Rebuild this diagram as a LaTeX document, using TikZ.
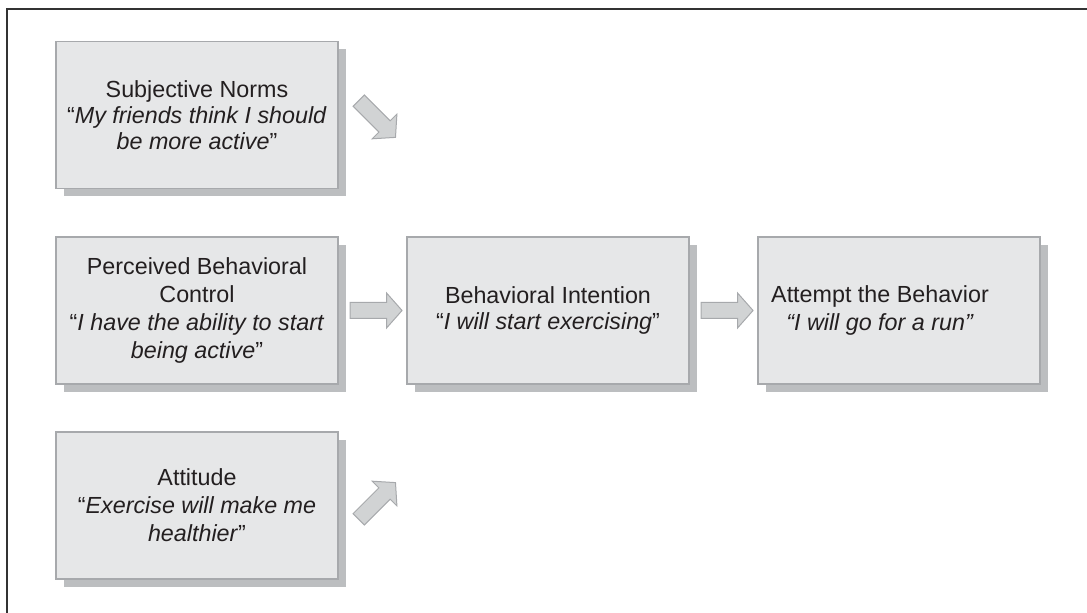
\documentclass[tikz,border=0pt]{standalone}
\usepackage{fontspec}
\setmainfont{Liberation Sans}
\usetikzlibrary{shapes.arrows,shadows,calc}
\definecolor{boxfill}{HTML}{E6E7E8}
\definecolor{boxline}{HTML}{A7A9AC}
\definecolor{boxshadow}{HTML}{BCBEC0}
\definecolor{arrowfill}{HTML}{D1D3D4}
\definecolor{ink}{HTML}{231F20}
\definecolor{framecol}{HTML}{333333}

\begin{document}
\begin{tikzpicture}[x=0.5pt,y=-0.5pt,
	box/.style={draw=boxline,fill=boxfill,line width=0.6pt,minimum width=141pt,minimum height=73.5pt,
		inner sep=0pt,align=center,text=ink,font=\fontsize{11.65pt}{14pt}\selectfont,
		drop shadow={shadow xshift=4pt,shadow yshift=-4pt,fill=boxshadow,opacity=1}},
	blockarrow/.style={single arrow,draw=boxline,fill=arrowfill,line width=0.5pt,minimum height=26pt,
		inner xsep=0pt,inner ysep=3.75pt,single arrow head extend=4.75pt,single arrow tip angle=97}]
			\useasboundingbox (0,0) rectangle (1087,613);
			\draw[framecol,line width=0.6pt] (7,613) -- (7,9) -- (1087,9);
			
			\node[box,font=\fontsize{11.65pt}{13pt}\selectfont] (sn) at (197,115) {Subjective Norms\\“\textit{My friends think I should}\\\textit{be more active}”};
			\node[box] (pbc) at (197,310.5) {Perceived Behavioral\\Control\\“\textit{I have the ability to start}\\\textit{being active}”};
			\node[box] (att) at (197,505.5) {Attitude\\“\textit{Exercise will make me}\\\textit{healthier}”};
			\node[box,font=\fontsize{11.65pt}{13pt}\selectfont] (bi) at (548,310.5) {Behavioral Intention\\“\textit{I will start exercising}”};
			\node[box] (ab) at (899,310.5) {};
			\node[align=center,text=ink,font=\fontsize{11.65pt}{14pt}\selectfont] (abtext) at ([xshift=-9.5pt]ab.center) {Attempt the Behavior\\\textit{“I will go for a run”}};
			
			\foreach \from/\to in {pbc/bi,bi/ab}
			\node[blockarrow] (arr-\from) at ($(\from.east)!0.5!(\to.west)$) {};
			\node[blockarrow,rotate=-45] (arr-sn) at ([xshift=18pt,yshift=-0.75pt]sn.east) {};
			\node[blockarrow,rotate=45] (arr-att) at ([xshift=18pt,yshift=1pt]att.east) {};
			\end{tikzpicture}
\end{document}
